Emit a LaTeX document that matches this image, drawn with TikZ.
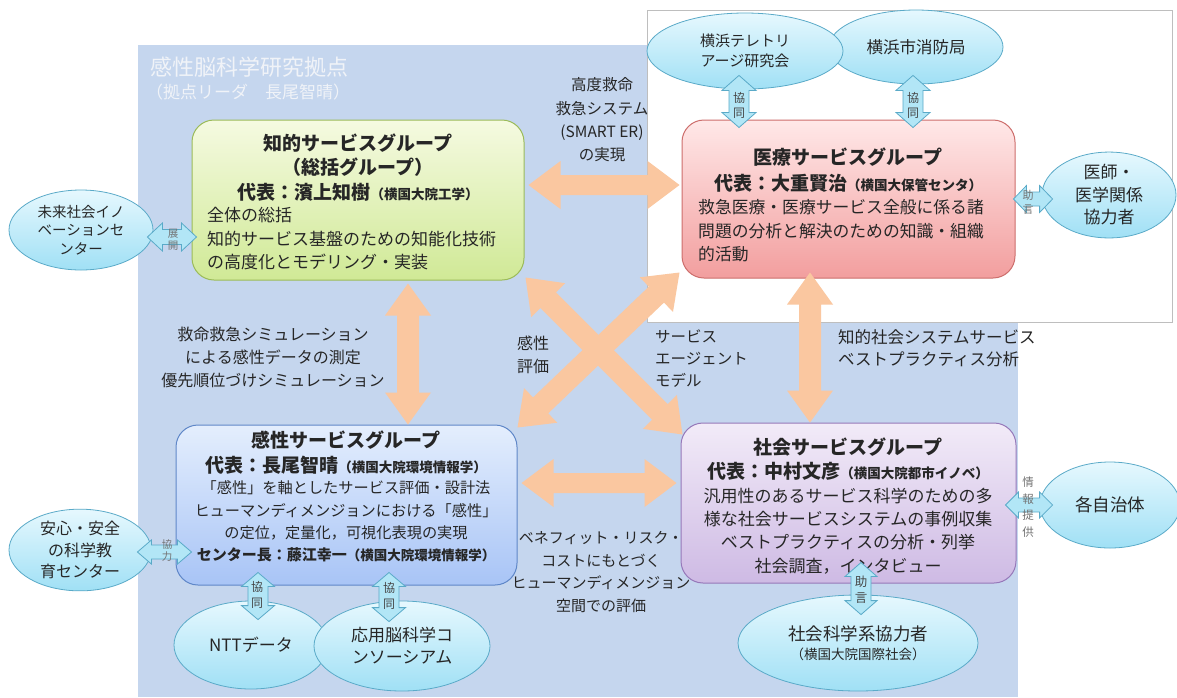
\documentclass[tikz,border=0pt]{standalone}
\usepackage{fontspec}
\setmainfont{Noto Sans CJK JP}
\usetikzlibrary{shapes.geometric,calc}
\definecolor{bgblue}{RGB}{197,214,238}
\definecolor{frame}{RGB}{190,190,190}
\definecolor{peach}{RGB}{250,199,160}
\definecolor{txt}{RGB}{38,38,38}
\definecolor{titlec}{RGB}{240,243,248}
\definecolor{labgray}{RGB}{70,70,70}
\definecolor{labgrayb}{RGB}{115,115,115}
\definecolor{gaD}{RGB}{155,187,89}\definecolor{gaT}{RGB}{245,250,225}\definecolor{gaB}{RGB}{208,233,150}
\definecolor{gbD}{RGB}{205,110,108}\definecolor{gbT}{RGB}{255,232,232}\definecolor{gbB}{RGB}{242,158,158}
\definecolor{gcD}{RGB}{95,135,200}\definecolor{gcT}{RGB}{228,238,253}\definecolor{gcB}{RGB}{168,196,246}
\definecolor{gdD}{RGB}{150,120,185}\definecolor{gdT}{RGB}{242,235,248}\definecolor{gdB}{RGB}{206,186,228}
\definecolor{ellD}{RGB}{90,170,200}\definecolor{ellT}{RGB}{230,248,254}\definecolor{ellB}{RGB}{160,224,245}
\definecolor{cyF}{RGB}{178,230,246}
\tikzset{
 grp/.style={rectangle, rounded corners=22pt, line width=1pt, inner sep=0pt},
 ell/.style={ellipse, draw=ellD, line width=0.8pt, top color=ellT, bottom color=ellB, inner sep=0pt, align=center, text=txt},
 orng/.style={fill=peach},
 cyar/.style={fill=cyF, draw=ellD, line width=0.8pt},
 smlab/.style={font=\fontsize{11}{14}\selectfont, text=labgray, align=center, inner sep=0pt},
 lab/.style={align=center, text=txt, inner sep=0pt},
}
\newcommand\fatarr[6]{%
 \coordinate (faA) at #2;
 \coordinate (faB) at #3;
 \coordinate (faH) at ($(faA)!#6!(faB)$);
 \coordinate (faK) at ($(faB)!#6!(faA)$);
 \path[#1] (faA) -- ($(faH)!#5!90:(faB)$) -- ($(faH)!#4!90:(faB)$) -- ($(faK)!#4!-90:(faA)$) -- ($(faK)!#5!-90:(faA)$) -- (faB) -- ($(faK)!#5!90:(faA)$) -- ($(faK)!#4!90:(faA)$) -- ($(faH)!#4!-90:(faB)$) -- ($(faH)!#5!-90:(faB)$) -- cycle;
}
\begin{document}
\begin{tikzpicture}[x=1pt,y=-1pt]
\useasboundingbox (0,0) rectangle (1177,697);
\fill[white] (0,0) rectangle (1177,697);
\fill[bgblue] (138,45) rectangle (1018,697);
\filldraw[fill=white, draw=frame, line width=0.8pt] (647,10) rectangle (1172,322);
\node[anchor=west, text=titlec, font=\fontsize{22}{26}\selectfont, inner sep=0pt] (ttl) at (150,67) {感性脳科学研究拠点};
\node[anchor=west, text=titlec, font=\fontsize{17}{20}\selectfont, inner sep=0pt] (ttlb) at (146,92) {（拠点リーダ　長尾智晴）};

% groups
\node[grp, draw=gaD, top color=gaT, bottom color=gaB, minimum width=332pt, minimum height=160pt] (g1) at (358,200) {};
\node[grp, draw=gbD, top color=gbT, bottom color=gbB, minimum width=333pt, minimum height=158pt] (g2) at (848.5,199) {};
\node[grp, draw=gcD, top color=gcT, bottom color=gcB, minimum width=341pt, minimum height=160pt] (g3) at (346.5,505) {};
\node[grp, draw=gdD, top color=gdT, bottom color=gdB, minimum width=335pt, minimum height=160pt] (g4) at (848.5,503) {};

\node[lab, font=\bfseries\fontsize{19}{24.5}\selectfont] (g1t) at (358,167.5) {知的サービスグループ\\（総括グループ）\\代表：濱上知樹{\fontsize{13.5}{16}\selectfont（横国大院工学）}};
\node[lab, align=left, anchor=west, font=\fontsize{17}{23.5}\selectfont] (g1b) at (207,238.7) {全体の総括\\知的サービス基盤のための知能化技術\\の高度化とモデリング・実装};

\node[lab, font=\bfseries\fontsize{19}{26}\selectfont] (g2t) at (848,170) {医療サービスグループ\\代表：大重賢治{\fontsize{13.5}{16}\selectfont（横国大保管センタ）}};
\node[lab, align=left, anchor=west, font=\fontsize{16.8}{23.5}\selectfont] (g2b) at (698,231) {救急医療・医療サービス全般に係る諸\\問題の分析と解決のための知識・組織\\的活動};

\node[lab, font=\bfseries\fontsize{19}{25}\selectfont] (g3t) at (346,452.5) {感性サービスグループ\\代表：長尾智晴{\fontsize{13.5}{16}\selectfont（横国大院環境情報学）}};
\node[lab, font=\fontsize{15.2}{22.5}\selectfont] (g3b) at (346,510.5) {「感性」を軸としたサービス評価・設計法\\ヒューマンディメンジョンにおける「感性」\\の定位，定量化，可視化表現の実現};
\node[lab, font=\bfseries\fontsize{15}{18}\selectfont] (g3c) at (346,555) {センター長：藤江幸一{\fontsize{13.5}{16}\selectfont（横国大院環境情報学）}};

\node[lab, font=\bfseries\fontsize{19}{24}\selectfont] (g4t) at (848,459) {社会サービスグループ\\代表：中村文彦{\fontsize{13.5}{16}\selectfont（横国大院都市イノベ）}};
\node[lab, font=\fontsize{17}{23.3}\selectfont] (g4b) at (848,531) {汎用性のあるサービス科学のための多\\様な社会サービスシステムの事例収集\\ベストプラクティスの分析・列挙\\社会調査，インタビュー};

% ellipses
\node[ell, minimum width=144pt, minimum height=80pt, font=\fontsize{14.5}{18.5}\selectfont] (e1) at (81,230) {未来社会イノ\\ベーションセ\\ンター};
\node[ell, minimum width=142pt, minimum height=80pt, font=\fontsize{16}{21.5}\selectfont] (e2) at (80,550) {安心・安全\\の科学教\\育センター};
\node[ell, minimum width=174pt, minimum height=74pt, font=\fontsize{16.5}{20}\selectfont] (e4) at (916,47) {横浜市消防局};
\node[ell, minimum width=196pt, minimum height=76pt, font=\fontsize{15}{20}\selectfont] (e3) at (745,51) {横浜テレトリ\\アージ研究会};
\node[ell, minimum width=134pt, minimum height=84pt, font=\fontsize{17}{22.5}\selectfont] (e5) at (1109,195) {医師・\\医学関係\\協力者};
\node[ell, minimum width=140pt, minimum height=86pt, font=\fontsize{17.5}{20}\selectfont] (e6) at (1110,505) {各自治体};
\node[ell, minimum width=154pt, minimum height=88pt, font=\fontsize{17}{20}\selectfont] (e7) at (251,645) {NTTデータ};
\node[ell, minimum width=176pt, minimum height=90pt, font=\fontsize{17}{22}\selectfont] (e8) at (402,646) {応用脳科学コ\\ンソーシアム};
\node[ell, minimum width=240pt, minimum height=96pt, font=\fontsize{17.5}{19}\selectfont] (e9) at (858,643) {社会科学系協力者\\{\fontsize{13.5}{16}\selectfont（横国大院国際社会）}};

% orange arrows
\fatarr{orng}{($(g1.east)+(4,-15)$)}{($(g2.west)+(-2,-14)$)}{10pt}{24pt}{32pt}
\fatarr{orng}{($(g3.east)+(4,-22)$)}{($(g4.west)+(-4,-20)$)}{10pt}{24pt}{32pt}
\fatarr{orng}{($(g1.south)+(50,3)$)}{($(g3.north)+(61.5,0)$)}{11pt}{23pt}{32pt}
\fatarr{orng}{($(g2.south)+(-38.5,-6)$)}{($(g4.north)+(-38.5,0)$)}{11pt}{23pt}{32pt}
\fatarr{orng}{($(g3.north east)+(0,3)$)}{($(g2.south west)+(-2,-6)$)}{11pt}{24pt}{32pt}
\fatarr{orng}{($(g1.south east)+(1,-3)$)}{($(g4.north west)+(2,12)$)}{11pt}{24pt}{32pt}

% cyan arrows
\fatarr{cyar}{($(e1.east)+(-6,7)$)}{($(g1.west)+(5,37)$)}{7.5pt}{14pt}{15pt}
\node[smlab, text=labgrayb, font=\fontsize{10.5}{12}\selectfont] (l1) at (173,240) {展\\開};
\fatarr{cyar}{($(e2.east)+(-14,2)$)}{($(g3.west)+(16,47)$)}{7pt}{12pt}{14pt}
\node[smlab, text=labgrayb, font=\fontsize{10.5}{12}\selectfont] (l2) at (167,551) {協\\力};
\fatarr{cyar}{($(e3.south)+(-6,-14)$)}{($(g2.north)+(-109.5,8)$)}{10pt}{17pt}{15pt}
\node[smlab, font=\fontsize{12}{15}\selectfont] (l3) at (739,105.5) {協\\同};
\fatarr{cyar}{($(e4.south)+(-3,-9)$)}{($(g2.north)+(64.5,8)$)}{10pt}{17pt}{15pt}
\node[smlab, font=\fontsize{12}{15}\selectfont] (l4) at (913,105.5) {協\\同};
\fatarr{cyar}{($(g2.east)+(-2,0)$)}{($(e5.west)+(11,4)$)}{7pt}{13.5pt}{13pt}
\node[smlab, text=labgrayb] (l5) at (1028,202) {助\\言};
\fatarr{cyar}{($(g4.east)+(-11,2)$)}{($(e6.west)+(13,0)$)}{7pt}{13pt}{13pt}
\node[smlab, text=labgrayb, font=\fontsize{11.5}{16.7}\selectfont] (l6) at (1028,507) {情\\報\\提\\供};
\fatarr{cyar}{($(g3.south)+(-88.5,-13)$)}{($(e7.north)+(7,19)$)}{10pt}{16.5pt}{14pt}
\node[smlab, font=\fontsize{12}{16}\selectfont] (l7) at (257,595) {協\\同};
\fatarr{cyar}{($(g3.south)+(42.5,-13)$)}{($(e8.north)+(-13,21)$)}{10pt}{16.5pt}{14pt}
\node[smlab, font=\fontsize{12}{16}\selectfont] (l8) at (389,596) {協\\同};
\fatarr{cyar}{($(g4.south)+(12.5,-21)$)}{($(e9.north)+(3,20)$)}{10pt}{16pt}{14pt}
\node[smlab, font=\fontsize{12.5}{16}\selectfont] (l9) at (861,590) {助\\言};

% free labels
\node[lab, font=\fontsize{15.5}{23.3}\selectfont] (lsmart) at (602,120) {高度救命\\救急システム\\(SMART ER)\\の実現};
\node[lab, font=\fontsize{16}{23}\selectfont] (lsim) at (273,357) {救命救急シミュレーション\\による感性データの測定\\優先順位づけシミュレーション};
\node[lab, font=\fontsize{16}{23}\selectfont] (lkan) at (533,354.5) {感性\\評価};
\node[lab, align=left, anchor=west, font=\fontsize{15.5}{22}\selectfont] (lagent) at (655,359) {サービス\\エージェント\\モデル};
\node[lab, align=left, anchor=west, font=\fontsize{16.5}{22}\selectfont] (lbest) at (838,348) {知的社会システムサービス\\ベストプラクティス分析};
\node[lab, font=\fontsize{15}{22.7}\selectfont] (lbene) at (601,572) {ベネフィット・リスク・\\コストにもとづく\\ヒューマンディメンジョン\\空間での評価};
\end{tikzpicture}
\end{document}
